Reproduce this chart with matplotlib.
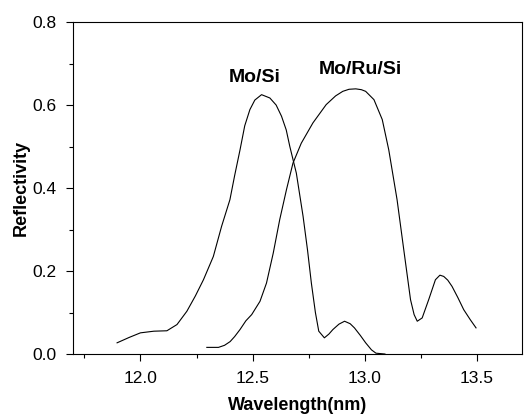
import matplotlib.pyplot as plt
from matplotlib.ticker import MultipleLocator

plt.rcParams['font.family'] = ['Liberation Sans', 'DejaVu Sans']

# Mo/Si reflectivity curve
mosi_wl = [11.896, 11.95, 12.0, 12.06, 12.118, 12.163, 12.207, 12.245, 12.281, 12.325,
           12.362, 12.399, 12.42, 12.444, 12.465, 12.488, 12.51, 12.54, 12.577, 12.605,
           12.629, 12.65, 12.666, 12.695, 12.725, 12.745, 12.762, 12.78, 12.795, 12.82,
           12.84, 12.858, 12.885, 12.91, 12.935, 12.954, 12.98, 13.004, 13.03, 13.05, 13.09]
mosi_r = [0.027, 0.04, 0.051, 0.055, 0.056, 0.071, 0.103, 0.14, 0.179, 0.235,
          0.308, 0.372, 0.43, 0.492, 0.55, 0.589, 0.612, 0.625, 0.617, 0.6,
          0.573, 0.54, 0.5, 0.436, 0.332, 0.25, 0.171, 0.1, 0.055, 0.039,
          0.048, 0.059, 0.072, 0.079, 0.073, 0.063, 0.045, 0.027, 0.01, 0.002, 0.0]

# Mo/Ru/Si reflectivity curve
moru_wl = [12.296, 12.348, 12.375, 12.4, 12.42, 12.444, 12.47, 12.496, 12.533, 12.562,
           12.592, 12.621, 12.651, 12.68, 12.717, 12.769, 12.828, 12.87, 12.902, 12.93,
           12.96, 12.985, 13.004, 13.041, 13.078, 13.107, 13.144, 13.174, 13.204, 13.22,
           13.234, 13.256, 13.285, 13.315, 13.335, 13.352, 13.37, 13.389, 13.415, 13.441,
           13.47, 13.496]
moru_r = [0.016, 0.016, 0.021, 0.03, 0.042, 0.059, 0.08, 0.095, 0.127, 0.171,
          0.243, 0.324, 0.396, 0.46, 0.508, 0.557, 0.601, 0.622, 0.633, 0.638,
          0.639, 0.637, 0.633, 0.613, 0.565, 0.492, 0.372, 0.251, 0.131, 0.095,
          0.079, 0.087, 0.131, 0.179, 0.19, 0.187, 0.178, 0.163, 0.136, 0.107,
          0.083, 0.063]

fig = plt.figure(figsize=(5.26, 4.16), dpi=100)
ax = fig.add_axes([0.139, 0.149, 0.853, 0.798])

ax.plot(mosi_wl, mosi_r, color='black', lw=0.8)
ax.plot(moru_wl, moru_r, color='black', lw=0.8)

ax.text(12.51, 0.667, "Mo/Si", fontsize=14, fontweight='bold', ha='center', va='center')
ax.text(12.98, 0.685, "Mo/Ru/Si", fontsize=14, fontweight='bold', ha='center', va='center')

ax.set_xlim(11.7, 13.7)
ax.set_ylim(0, 0.8)
ax.xaxis.set_major_locator(MultipleLocator(0.5))
ax.xaxis.set_minor_locator(MultipleLocator(0.25))
ax.yaxis.set_major_locator(MultipleLocator(0.2))
ax.yaxis.set_minor_locator(MultipleLocator(0.1))
ax.tick_params(which='both', direction='out', labelsize=12.5, width=0.8)
ax.tick_params(which='major', length=5, pad=7)
ax.tick_params(which='minor', length=3)
ax.set_xticks([12.0, 12.5, 13.0, 13.5])
ax.set_xticklabels(["12.0", "12.5", "13.0", "13.5"])
ax.set_xlabel("Wavelength(nm)", fontsize=13, fontweight='bold', labelpad=8)
ax.set_ylabel("Reflectivity", fontsize=13, fontweight='bold', labelpad=2)

fig.savefig("out.png", dpi=100)
